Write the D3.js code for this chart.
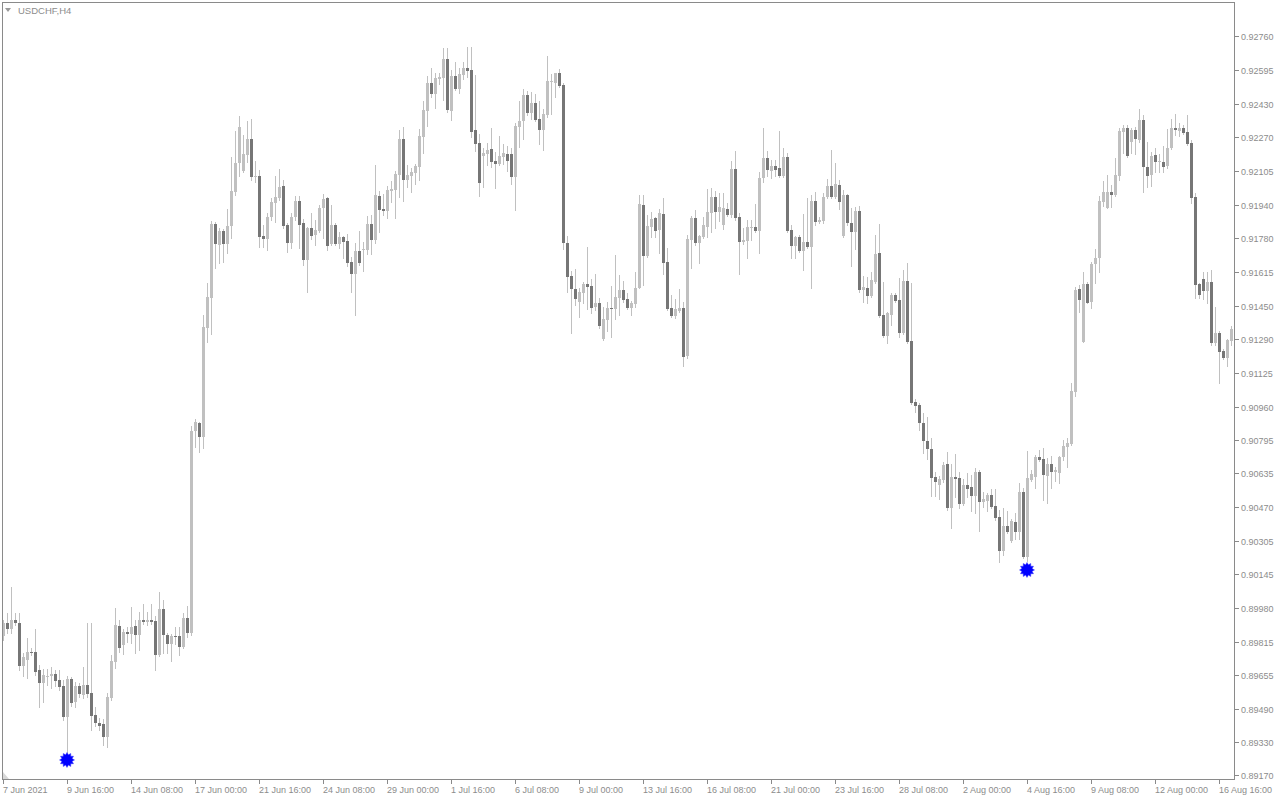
<!DOCTYPE html>
<html><head><meta charset="utf-8">
<script src="https://cdn.jsdelivr.net/npm/d3@7"></script>
<style>
body{margin:0;background:#fff;}
svg{display:block;}
text{font-family:"Liberation Sans",Arial,sans-serif;}
</style>
</head><body>
<svg id="chart" width="1280" height="800"></svg>
<script>
const symbolLabel = "USDCHF,H4";
const opens = [0.89845,0.89909,0.89879,0.89923,0.89909,0.89700,0.89729,0.89768,0.89768,0.89680,0.89617,0.89646,0.89651,0.89661,0.89632,0.89602,0.89452,0.89636,0.89525,0.89602,0.89559,0.89607,0.89568,0.89461,0.89423,0.89418,0.89355,0.89544,0.89719,0.89894,0.89802,0.89865,0.89855,0.89894,0.89850,0.89923,0.89913,0.89923,0.89918,0.89753,0.89976,0.89850,0.89806,0.89845,0.89845,0.89792,0.89933,0.89860,0.90841,0.90880,0.90812,0.91342,0.91487,0.91847,0.91745,0.91813,0.91750,0.91837,0.92002,0.92143,0.92104,0.92182,0.92260,0.92075,0.92080,0.91789,0.91774,0.91881,0.91949,0.91973,0.92032,0.91842,0.91755,0.91881,0.91959,0.91852,0.91672,0.91827,0.91793,0.91813,0.91925,0.91973,0.91750,0.91842,0.91750,0.91784,0.91764,0.91662,0.91604,0.91716,0.91720,0.91720,0.91847,0.91769,0.91983,0.91920,0.91910,0.92007,0.92012,0.92085,0.92260,0.92061,0.92080,0.92094,0.92124,0.92269,0.92396,0.92532,0.92478,0.92551,0.92556,0.92648,0.92396,0.92566,0.92503,0.92571,0.92605,0.92595,0.92304,0.92240,0.92177,0.92187,0.92211,0.92153,0.92138,0.92172,0.92187,0.92187,0.92075,0.92318,0.92347,0.92474,0.92386,0.92435,0.92357,0.92304,0.92376,0.92537,0.92532,0.92580,0.92522,0.91755,0.91594,0.91531,0.91468,0.91512,0.91555,0.91546,0.91444,0.91463,0.91288,0.91380,0.91439,0.91434,0.91487,0.91526,0.91482,0.91439,0.91458,0.91536,0.91939,0.91691,0.91832,0.91876,0.91818,0.91895,0.91662,0.91439,0.91400,0.91424,0.91439,0.91206,0.91769,0.91876,0.91755,0.91784,0.91832,0.91900,0.91978,0.91905,0.91842,0.91920,0.91891,0.92114,0.91881,0.91759,0.91764,0.91827,0.91832,0.91813,0.92070,0.92168,0.92104,0.92129,0.92119,0.92080,0.92172,0.91818,0.91740,0.91784,0.91716,0.91759,0.91735,0.91959,0.91857,0.91861,0.91978,0.92032,0.91978,0.92036,0.91789,0.91988,0.91852,0.91808,0.91910,0.91526,0.91536,0.91497,0.91565,0.91706,0.91405,0.91303,0.91405,0.91502,0.91478,0.91317,0.91570,0.91278,0.90982,0.90968,0.90880,0.90792,0.90754,0.90618,0.90579,0.90603,0.90681,0.90467,0.90618,0.90613,0.90487,0.90579,0.90569,0.90525,0.90642,0.90496,0.90501,0.90530,0.90477,0.90423,0.90258,0.90380,0.90307,0.90399,0.90351,0.90545,0.90229,0.90603,0.90618,0.90715,0.90705,0.90623,0.90681,0.90642,0.90637,0.90715,0.90764,0.90778,0.91031,0.91531,0.91274,0.91555,0.91468,0.91652,0.91681,0.91954,0.91925,0.92002,0.91988,0.92080,0.92294,0.92313,0.92245,0.92304,0.92255,0.92352,0.92124,0.92085,0.92182,0.92148,0.92148,0.92129,0.92216,0.92313,0.92299,0.92313,0.92294,0.92240,0.91978,0.91555,0.91580,0.91521,0.91565,0.91269,0.91317,0.91230,0.91196,0.91278];
const highs = [0.89923,0.89957,0.90083,0.89957,0.89957,0.89763,0.89836,0.89787,0.89879,0.89704,0.89685,0.89685,0.89695,0.89680,0.89680,0.89632,0.89651,0.89646,0.89622,0.89617,0.89695,0.89909,0.89909,0.89500,0.89447,0.89442,0.89568,0.89753,0.89981,0.89923,0.89879,0.89889,0.89986,0.89923,0.89962,0.90001,0.89962,0.90001,0.89943,0.90059,0.90020,0.89860,0.89855,0.89889,0.89889,0.89957,0.89991,0.90866,0.90900,0.90885,0.91405,0.91560,0.91861,0.91857,0.91827,0.91823,0.91920,0.92172,0.92299,0.92372,0.92279,0.92347,0.92357,0.92153,0.92109,0.91842,0.91900,0.91973,0.92080,0.92114,0.92061,0.91852,0.91900,0.91983,0.91983,0.91871,0.91832,0.91900,0.91866,0.91939,0.91993,0.91978,0.91939,0.91852,0.91808,0.91789,0.91798,0.91686,0.91755,0.91813,0.91759,0.91886,0.91891,0.92133,0.92007,0.91993,0.92032,0.92056,0.92104,0.92304,0.92318,0.92133,0.92119,0.92138,0.92308,0.92444,0.92566,0.92605,0.92580,0.92580,0.92702,0.92702,0.92595,0.92634,0.92605,0.92634,0.92707,0.92707,0.92571,0.92284,0.92216,0.92240,0.92313,0.92197,0.92274,0.92235,0.92226,0.92216,0.92337,0.92444,0.92503,0.92493,0.92488,0.92478,0.92444,0.92405,0.92663,0.92575,0.92580,0.92600,0.92532,0.91789,0.91618,0.91628,0.91536,0.91565,0.91735,0.91580,0.91604,0.91487,0.91444,0.91468,0.91546,0.91696,0.91599,0.91570,0.91512,0.91473,0.91614,0.91988,0.91988,0.91891,0.91905,0.91881,0.91920,0.91973,0.91730,0.91502,0.91482,0.91531,0.91468,0.91793,0.91886,0.91915,0.91793,0.91881,0.92017,0.92022,0.92007,0.91997,0.91997,0.91949,0.92153,0.92201,0.91900,0.91827,0.91866,0.91866,0.91944,0.92099,0.92313,0.92201,0.92158,0.92158,0.92299,0.92216,0.92192,0.91842,0.91789,0.91793,0.91895,0.91973,0.91988,0.92002,0.91881,0.91997,0.92066,0.92206,0.92143,0.92061,0.92012,0.91993,0.91925,0.91929,0.91934,0.91594,0.91589,0.91614,0.91793,0.91847,0.91565,0.91419,0.91512,0.91512,0.91584,0.91623,0.91657,0.91560,0.90997,0.90977,0.90929,0.90909,0.90807,0.90642,0.90623,0.90690,0.90739,0.90681,0.90729,0.90642,0.90608,0.90637,0.90628,0.90661,0.90652,0.90545,0.90540,0.90559,0.90559,0.90457,0.90467,0.90453,0.90414,0.90443,0.90589,0.90564,0.90744,0.90652,0.90724,0.90749,0.90759,0.90710,0.90719,0.90666,0.90719,0.90798,0.90807,0.91074,0.91541,0.91550,0.91614,0.91565,0.91662,0.91725,0.91983,0.92056,0.92085,0.92036,0.92168,0.92313,0.92328,0.92328,0.92313,0.92318,0.92405,0.92376,0.92245,0.92197,0.92216,0.92187,0.92226,0.92308,0.92357,0.92381,0.92337,0.92328,0.92376,0.92255,0.91997,0.91560,0.91614,0.91614,0.91623,0.91444,0.91327,0.91240,0.91288,0.91351];
const lows = [0.89826,0.89860,0.89860,0.89899,0.89680,0.89651,0.89641,0.89753,0.89656,0.89500,0.89525,0.89607,0.89593,0.89602,0.89583,0.89437,0.89277,0.89505,0.89500,0.89549,0.89544,0.89549,0.89389,0.89408,0.89389,0.89316,0.89306,0.89534,0.89690,0.89768,0.89758,0.89816,0.89811,0.89763,0.89777,0.89904,0.89899,0.89904,0.89680,0.89748,0.89763,0.89763,0.89724,0.89806,0.89753,0.89787,0.89840,0.89850,0.90764,0.90739,0.90759,0.91274,0.91312,0.91633,0.91657,0.91662,0.91706,0.91779,0.91988,0.92080,0.92099,0.92148,0.92061,0.92051,0.91735,0.91735,0.91720,0.91866,0.91857,0.91963,0.91827,0.91711,0.91730,0.91866,0.91730,0.91648,0.91517,0.91774,0.91745,0.91808,0.91779,0.91720,0.91745,0.91745,0.91730,0.91682,0.91643,0.91517,0.91405,0.91648,0.91619,0.91701,0.91701,0.91755,0.91808,0.91891,0.91876,0.91954,0.91876,0.91978,0.91959,0.92027,0.92002,0.92041,0.92061,0.92192,0.92323,0.92464,0.92410,0.92527,0.92449,0.92391,0.92352,0.92498,0.92483,0.92551,0.92561,0.92269,0.92202,0.91983,0.92027,0.92133,0.92124,0.92022,0.92133,0.92138,0.92104,0.92041,0.91915,0.92221,0.92260,0.92376,0.92357,0.92347,0.92235,0.92206,0.92367,0.92381,0.92464,0.92512,0.91725,0.91517,0.91317,0.91453,0.91395,0.91463,0.91434,0.91414,0.91429,0.91342,0.91283,0.91327,0.91298,0.91386,0.91405,0.91468,0.91434,0.91405,0.91444,0.91536,0.91550,0.91686,0.91784,0.91784,0.91706,0.91604,0.91429,0.91395,0.91390,0.91419,0.91157,0.91196,0.91633,0.91745,0.91657,0.91779,0.91784,0.91808,0.91827,0.91861,0.91823,0.91886,0.91881,0.91866,0.91604,0.91750,0.91682,0.91769,0.91808,0.91706,0.92051,0.92080,0.92070,0.92080,0.92075,0.92075,0.91808,0.91682,0.91682,0.91711,0.91623,0.91730,0.91536,0.91842,0.91852,0.91852,0.91973,0.91973,0.91973,0.91920,0.91784,0.91842,0.91643,0.91725,0.91517,0.91468,0.91463,0.91492,0.91560,0.91395,0.91298,0.91269,0.91356,0.91468,0.91298,0.91312,0.91269,0.90972,0.90934,0.90846,0.90734,0.90705,0.90525,0.90525,0.90511,0.90594,0.90457,0.90370,0.90521,0.90467,0.90482,0.90521,0.90453,0.90443,0.90355,0.90472,0.90453,0.90467,0.90409,0.90205,0.90239,0.90346,0.90302,0.90317,0.90317,0.90224,0.90210,0.90598,0.90564,0.90695,0.90506,0.90491,0.90564,0.90598,0.90589,0.90700,0.90666,0.90773,0.91011,0.91419,0.91274,0.91463,0.91439,0.91560,0.91614,0.91934,0.91925,0.91929,0.91983,0.92061,0.92192,0.92172,0.92192,0.92187,0.92245,0.92002,0.92027,0.92032,0.92099,0.92099,0.92099,0.92119,0.92211,0.92279,0.92274,0.92284,0.92230,0.91949,0.91487,0.91487,0.91482,0.91463,0.91259,0.91259,0.91074,0.91191,0.91157,0.91259];
const closes = [0.89909,0.89879,0.89923,0.89909,0.89700,0.89743,0.89768,0.89763,0.89670,0.89617,0.89656,0.89651,0.89661,0.89627,0.89598,0.89452,0.89636,0.89520,0.89602,0.89564,0.89607,0.89564,0.89457,0.89423,0.89408,0.89355,0.89549,0.89724,0.89899,0.89787,0.89865,0.89855,0.89889,0.89850,0.89923,0.89913,0.89923,0.89913,0.89753,0.89976,0.89850,0.89806,0.89845,0.89840,0.89792,0.89933,0.89860,0.90841,0.90885,0.90812,0.91346,0.91492,0.91847,0.91750,0.91813,0.91750,0.91837,0.92007,0.92143,0.92318,0.92187,0.92260,0.92075,0.92080,0.91784,0.91774,0.91881,0.91954,0.91978,0.92027,0.91837,0.91755,0.91881,0.91959,0.91842,0.91672,0.91827,0.91789,0.91818,0.91925,0.91968,0.91740,0.91842,0.91750,0.91784,0.91759,0.91657,0.91604,0.91716,0.91657,0.91725,0.91847,0.91769,0.91988,0.91915,0.91910,0.92012,0.92017,0.92090,0.92260,0.92061,0.92085,0.92099,0.92129,0.92274,0.92401,0.92532,0.92478,0.92556,0.92561,0.92648,0.92401,0.92566,0.92503,0.92575,0.92605,0.92590,0.92294,0.92235,0.92046,0.92192,0.92206,0.92148,0.92138,0.92177,0.92192,0.92153,0.92075,0.92323,0.92347,0.92474,0.92386,0.92435,0.92352,0.92304,0.92381,0.92541,0.92541,0.92580,0.92517,0.91755,0.91589,0.91531,0.91482,0.91517,0.91555,0.91541,0.91439,0.91463,0.91351,0.91386,0.91439,0.91434,0.91492,0.91526,0.91478,0.91439,0.91463,0.91536,0.91944,0.91691,0.91837,0.91871,0.91813,0.91900,0.91657,0.91434,0.91400,0.91434,0.91439,0.91201,0.91774,0.91876,0.91755,0.91789,0.91842,0.91905,0.91978,0.91905,0.91929,0.91925,0.91891,0.92114,0.91876,0.91759,0.91769,0.91832,0.91832,0.91813,0.92070,0.92168,0.92109,0.92129,0.92109,0.92080,0.92172,0.91813,0.91740,0.91784,0.91716,0.91759,0.91735,0.91959,0.91857,0.91866,0.91978,0.92032,0.91978,0.92041,0.91954,0.91988,0.91852,0.91808,0.91910,0.91526,0.91541,0.91497,0.91575,0.91701,0.91400,0.91303,0.91414,0.91502,0.91473,0.91317,0.91570,0.91274,0.90977,0.90963,0.90880,0.90792,0.90754,0.90613,0.90594,0.90608,0.90676,0.90467,0.90618,0.90608,0.90487,0.90579,0.90559,0.90525,0.90642,0.90496,0.90511,0.90530,0.90472,0.90419,0.90258,0.90380,0.90351,0.90404,0.90351,0.90545,0.90229,0.90613,0.90632,0.90715,0.90700,0.90627,0.90681,0.90642,0.90652,0.90715,0.90768,0.90783,0.91035,0.91526,0.91478,0.91555,0.91463,0.91652,0.91681,0.91959,0.92002,0.92002,0.91988,0.92085,0.92299,0.92313,0.92177,0.92304,0.92260,0.92352,0.92124,0.92080,0.92177,0.92148,0.92153,0.92124,0.92216,0.92313,0.92304,0.92313,0.92289,0.92235,0.91973,0.91550,0.91502,0.91521,0.91565,0.91269,0.91317,0.91225,0.91196,0.91283,0.91337];
const xTickLabels = ["7 Jun 2021","9 Jun 16:00","14 Jun 08:00","17 Jun 00:00","21 Jun 16:00","24 Jun 08:00","29 Jun 00:00","1 Jul 16:00","6 Jul 08:00","9 Jul 00:00","13 Jul 16:00","16 Jul 08:00","21 Jul 00:00","23 Jul 16:00","28 Jul 08:00","2 Aug 00:00","4 Aug 16:00","9 Aug 08:00","12 Aug 00:00","16 Aug 16:00"];
const xTickBars = [0,16,32,48,64,80,96,112,128,144,160,176,192,208,224,240,256,272,288,304];
const yTickLabels = ["0.92760","0.92595","0.92430","0.92270","0.92105","0.91940","0.91780","0.91615","0.91450","0.91290","0.91125","0.90960","0.90795","0.90635","0.90470","0.90305","0.90145","0.89980","0.89815","0.89655","0.89490","0.89330","0.89170"];
const fractalBars = [16, 256];
const fractalPrices = [0.89243, 0.90166];

const svg = d3.select("#chart");
const plot = {left: 2, top: 2, right: 1234, bottom: 779};
const n = opens.length;
const x = d3.scaleLinear().domain([0, n - 1]).range([3, 3 + 4 * (n - 1)]);
const y = d3.scaleLinear().domain([0.89170, 0.92760]).range([775, 36]);

const bullColor = "#c0c0c0", bearColor = "#767676", wickColor = "#c0c0c0";
const textColor = "#8c8c8c", frameColor = "#8a8a8a";

svg.append("rect").attr("width",1280).attr("height",800).attr("fill","#fff");

const clip = svg.append("clipPath").attr("id","plotclip").append("rect")
  .attr("x",plot.left+1).attr("y",plot.top+1).attr("width",plot.right-plot.left-1).attr("height",plot.bottom-plot.top-1);

const g = svg.append("g").attr("clip-path","url(#plotclip)");
const idx = d3.range(n);

g.selectAll("line.wick").data(idx).enter().append("line")
  .attr("class","wick")
  .attr("x1", i => Math.round(x(i)) + 0.5).attr("x2", i => Math.round(x(i)) + 0.5)
  .attr("y1", i => Math.round(y(highs[i]))).attr("y2", i => Math.round(y(lows[i])) + 1)
  .attr("stroke", wickColor).attr("stroke-width", 1).attr("shape-rendering","crispEdges");

g.selectAll("rect.body").data(idx).enter().append("rect")
  .attr("class","body")
  .attr("x", i => Math.round(x(i)) - 1)
  .attr("width", 3)
  .attr("y", i => Math.round(y(Math.max(opens[i], closes[i]))))
  .attr("height", i => Math.max(1, Math.round(y(Math.min(opens[i], closes[i]))) - Math.round(y(Math.max(opens[i], closes[i])))))
  .attr("fill", i => closes[i] >= opens[i] ? bullColor : bearColor)
  .attr("shape-rendering","crispEdges");

// fractal markers (starbursts)
function starPath(r1, r2, pts) {
  const p = [];
  for (let k = 0; k < pts * 2; k++) {
    const r = k % 2 === 0 ? r1 : r2;
    const a = Math.PI * k / pts - Math.PI / 2;
    p.push([r * Math.cos(a), r * Math.sin(a)]);
  }
  return "M" + p.map(d => d[0].toFixed(2) + "," + d[1].toFixed(2)).join("L") + "Z";
}
g.selectAll("path.fractal").data(fractalBars).enter().append("path")
  .attr("class","fractal")
  .attr("d", starPath(7.5, 5.3, 12))
  .attr("transform", (b, k) => `translate(${x(b)},${y(fractalPrices[k])})`)
  .attr("fill", "#0000ff").attr("stroke","#3a3aff").attr("stroke-width",0.5);

// frame
svg.append("rect").attr("x", plot.left + 0.5).attr("y", plot.top + 0.5)
  .attr("width", plot.right - plot.left).attr("height", plot.bottom - plot.top)
  .attr("fill","none").attr("stroke", frameColor).attr("shape-rendering","crispEdges");

// bottom-left shift marker
svg.append("path").attr("d", `M${plot.left+1},${plot.bottom-7}L${plot.left+1},${plot.bottom}L${plot.left+7},${plot.bottom}Z`)
  .attr("fill","#d8d8d8");

// y axis
const yAxisG = svg.append("g");
yTickLabels.forEach(lbl => {
  const v = parseFloat(lbl);
  const yy = Math.round(y(v)) + 0.5;
  yAxisG.append("line").attr("x1", plot.right + 0.5).attr("x2", plot.right + 4.5)
    .attr("y1", yy).attr("y2", yy).attr("stroke", frameColor).attr("shape-rendering","crispEdges");
  yAxisG.append("text").attr("x", plot.right + 7).attr("y", yy + 3.5)
    .attr("font-size", "9px").attr("fill", textColor).text(lbl);
});

// x axis
const xAxisG = svg.append("g");
xTickBars.forEach((b, k) => {
  const xx = Math.round(x(b)) + 0.5;
  xAxisG.append("line").attr("x1", xx).attr("x2", xx).attr("y1", plot.bottom).attr("y2", plot.bottom + 5)
    .attr("stroke", frameColor).attr("shape-rendering","crispEdges");
  xAxisG.append("text").attr("x", xx - 0.5).attr("y", plot.bottom + 14)
    .attr("font-size","9px").attr("fill", textColor).text(xTickLabels[k]);
});

// title
svg.append("path").attr("d","M5,8L11,8L8,12Z").attr("fill","#9a9a9a");
svg.append("text").attr("x",18).attr("y",14).attr("font-size","9.5px").attr("fill",textColor).text(symbolLabel);
</script>
</body></html>
